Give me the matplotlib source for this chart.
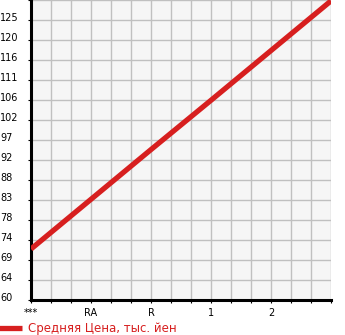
import numpy as np
import matplotlib
matplotlib.use("Agg")
import matplotlib.pyplot as plt
import matplotlib.transforms as mtrans

## data
x_pos = [0, 3, 6, 9, 12, 15]
price = [71.9, 83.5, 95.1, 106.6, 118.2, 129.8]
x_labels = ["***", "RA", "R", "1", "2"]
x_label_pos = [0, 3, 6, 9, 12]
y_min, y_max = 60, 130
legend_label = "Средняя Цена, тыс. йен"

red = "#d71f1f"

fig = plt.figure(figsize=(3.45, 3.35), dpi=100)
ax = fig.add_axes([31/345, 1-300/335, 300/345, 300/335])
ax.set_facecolor("#f6f6f6")

ax.plot(x_pos, price, color=red, lw=3.8, solid_capstyle="butt", label=legend_label, zorder=3)

ax.set_xlim(0, 15)
ax.set_ylim(y_min, y_max)

yt = np.linspace(y_min, y_max, 16)
ax.set_yticks(yt)
ax.set_yticklabels([str(int(v)) for v in yt[:-1]] + [""])
ax.set_xticks(range(16))
ax.set_xticklabels([x_labels[x_label_pos.index(i)] if i in x_label_pos else "" for i in range(16)])

ax.grid(True, color="#c0c0c0", lw=1.0)
ax.set_axisbelow(True)

for s in ["top", "right"]:
    ax.spines[s].set_visible(False)
for s in ["left", "bottom"]:
    ax.spines[s].set_linewidth(2.2)
    ax.spines[s].set_color("black")

ax.tick_params(axis="y", length=2.5, width=0.8, pad=19.5, labelsize=7)
ax.tick_params(axis="x", length=2.5, width=0.8, pad=3.5, labelsize=7)
for t in ax.get_yticklabels():
    t.set_horizontalalignment("left")
    t.set_transform(t.get_transform() + mtrans.ScaledTranslation(0, 3/100, fig.dpi_scale_trans))

leg = fig.legend(loc="lower left", bbox_to_anchor=(-0.036, -0.032), frameon=False,
                 handlelength=2.0, handletextpad=0.5, fontsize=8.5, labelcolor="linecolor")

plt.savefig("out.png", dpi=100)
